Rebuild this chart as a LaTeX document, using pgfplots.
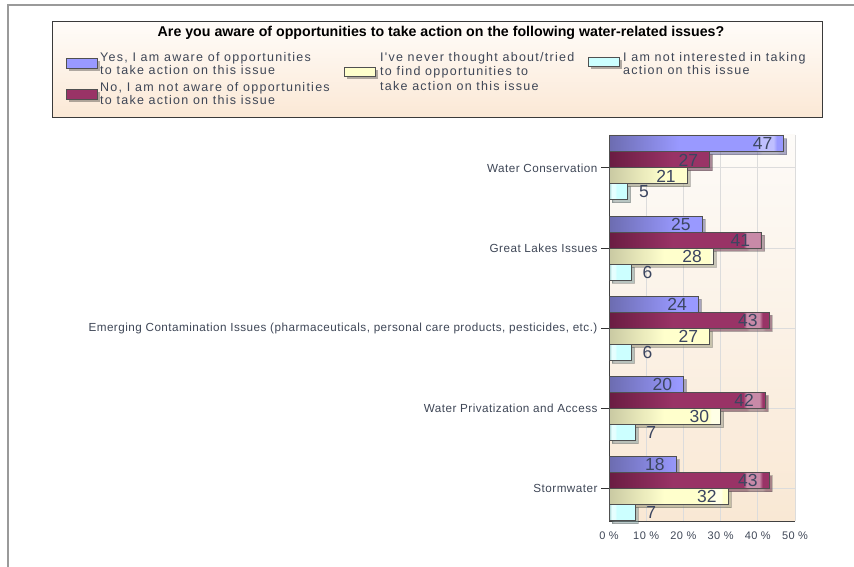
\documentclass[border=0pt]{standalone}
\usepackage{fontspec}
\setmainfont{Liberation Sans}
\newfontfamily\legfont[LetterSpace=10]{Liberation Sans}
\newfontfamily\catfont[LetterSpace=4]{Liberation Sans}
\usepackage{pgfplots}
\pgfplotsset{compat=1.18}
\usetikzlibrary{shadows}

\definecolor{frameGray}{HTML}{9A9A9A}
\definecolor{legTop}{HTML}{FFFCF9}
\definecolor{legBot}{HTML}{FBE8D5}
\definecolor{legBorder}{HTML}{3A3A3A}
\definecolor{plotTop}{HTML}{FDFBF8}
\definecolor{plotBot}{HTML}{F9E8D4}
\definecolor{gridCol}{HTML}{DCDCDC}
\definecolor{txtCol}{HTML}{3E4656}
\definecolor{valCol}{HTML}{3C4660}
\definecolor{barEdge}{HTML}{505050}

\definecolor{bDark}{HTML}{6C6CB0}
\definecolor{bMain}{HTML}{9999FF}
\definecolor{bLight}{HTML}{BFBFFF}
\definecolor{mDark}{HTML}{6A1C42}
\definecolor{mMain}{HTML}{993366}
\definecolor{mLight}{HTML}{C88AA8}
\definecolor{yDark}{HTML}{C9C9A2}
\definecolor{yMain}{HTML}{FFFFCC}
\definecolor{yLight}{HTML}{FFFFE6}
\definecolor{cDark}{HTML}{9CCACA}
\definecolor{cMain}{HTML}{CCFFFF}
\definecolor{cLight}{HTML}{E6FFFF}

% horizontal shadings: middle 50bp is mapped onto the bar
\pgfdeclarehorizontalshading{shBlue}{100bp}{color(0bp)=(bDark); color(25bp)=(bDark); color(45bp)=(bMain); color(67bp)=(bMain); color(68bp)=(bLight); color(72bp)=(bLight); color(73bp)=(bMain); color(100bp)=(bMain)}
\pgfdeclarehorizontalshading{shMaroon}{100bp}{color(0bp)=(mDark); color(25bp)=(mDark); color(45bp)=(mMain); color(67bp)=(mMain); color(68bp)=(mLight); color(72bp)=(mLight); color(73bp)=(mMain); color(100bp)=(mMain)}
\pgfdeclarehorizontalshading{shYellow}{100bp}{color(0bp)=(yDark); color(25bp)=(yDark); color(48bp)=(yMain); color(67bp)=(yMain); color(68bp)=(yLight); color(72bp)=(yLight); color(73bp)=(yMain); color(100bp)=(yMain)}
\pgfdeclarehorizontalshading{shCyan}{100bp}{color(0bp)=(cDark); color(25bp)=(cDark); color(30bp)=(cLight); color(36bp)=(cLight); color(40bp)=(cMain); color(100bp)=(cMain)}

\tikzset{
  barshadow/.style={drop shadow={shadow xshift=3pt, shadow yshift=-3pt, fill=black, opacity=0.3}},
}

\begin{document}
\begin{tikzpicture}[x=1pt,y=1pt]
\path[use as bounding box] (0,0) rectangle (854,567);
\draw[frameGray, line width=2pt] (8,0) -- (8,562) -- (854,562);

% legend box
\shade[top color=legTop, bottom color=legBot] (52,449) rectangle (822,545);
\draw[legBorder, line width=1pt] (52,449) rectangle (822,545);
\node[font=\bfseries\fontsize{14.2}{15}\selectfont, inner sep=0pt] at (441,534) {Are you aware of opportunities to take action on the following water-related issues?};

\begin{scope}[every node/.style={font=\legfont\fontsize{12.5}{13}\selectfont, text=txtCol, align=left, anchor=north west, inner sep=0pt}]
\fill[bMain, draw=barEdge, barshadow] (66,499) rectangle (97,509);
\node at (100,515) {Yes, I am aware of opportunities\\to take action on this issue};
\fill[mMain, draw=barEdge, barshadow] (66,468) rectangle (97,478);
\node at (100,485) {No, I am not aware of opportunities\\to take action on this issue};
\fill[yMain, draw=barEdge, barshadow] (344,491) rectangle (375,500);
\node[font=\legfont\fontsize{12.5}{14.5}\selectfont] at (380,515) {I've never thought about/tried\\to find opportunities to\\take action on this issue};
\fill[cMain, draw=barEdge, barshadow] (588,501) rectangle (619,510);
\node at (623,515) {I am not interested in taking\\action on this issue};
\end{scope}

\begin{axis}[
  at={(609pt,46pt)}, anchor=south west,
  width=186pt, height=386pt, scale only axis,
  xbar, bar width=16pt,
  xmin=0, xmax=50, ymin=-0.4, ymax=4.41,
  axis background/.style={top color=plotTop, bottom color=plotBot},
  axis x line*=bottom, axis y line*=left,
  axis line style={draw=black!75, line width=0.8pt},
  xtick={0,10,20,30,40,50},
  xticklabels={0 \%,10 \%,20 \%,30 \%,40 \%,50 \%},
  ytick={0,1,2,3,4},
  yticklabels={Stormwater, Water Privatization and Access, {Emerging Contamination Issues (pharmaceuticals, personal care products, pesticides, etc.)}, Great Lakes Issues, Water Conservation},
  tick align=outside,
  xtick style={draw=none},
  ytick style={draw=black!80, line width=0.8pt},
  major tick length=8pt,
  xmajorgrids, ymajorgrids,
  grid style={draw=gridCol, line width=0.8pt},
  ticklabel style={text=txtCol},
  xticklabel style={font=\catfont\fontsize{11}{12}\selectfont, yshift=1pt},
  yticklabel style={font=\catfont\fontsize{11.7}{13}\selectfont},
  /pgf/number format/assume math mode=true,
  nodes near coords,
  every node near coord/.append style={font=\fontsize{17.5}{17.5}\selectfont, text=valCol, inner sep=0pt},
  clip=false,
]
\addplot[shading=shBlue, draw=barEdge, line width=0.8pt, barshadow, bar shift=24pt,
  every node near coord/.append style={anchor=east, xshift=-11pt}]
  coordinates {(47,4) (25,3) (24,2) (20,1) (18,0)};
\addplot[shading=shMaroon, draw=barEdge, line width=0.8pt, barshadow, bar shift=8pt,
  every node near coord/.append style={anchor=east, xshift=-11pt}]
  coordinates {(27,4) (41,3) (43,2) (42,1) (43,0)};
\addplot[shading=shYellow, draw=barEdge, line width=0.8pt, barshadow, bar shift=-8pt,
  every node near coord/.append style={anchor=east, xshift=-11pt}]
  coordinates {(21,4) (28,3) (27,2) (30,1) (32,0)};
\addplot[shading=shCyan, draw=barEdge, line width=0.8pt, barshadow, bar shift=-24pt,
  every node near coord/.append style={anchor=west, xshift=11pt}]
  coordinates {(5,4) (6,3) (6,2) (7,1) (7,0)};
\end{axis}
\end{tikzpicture}
\end{document}
